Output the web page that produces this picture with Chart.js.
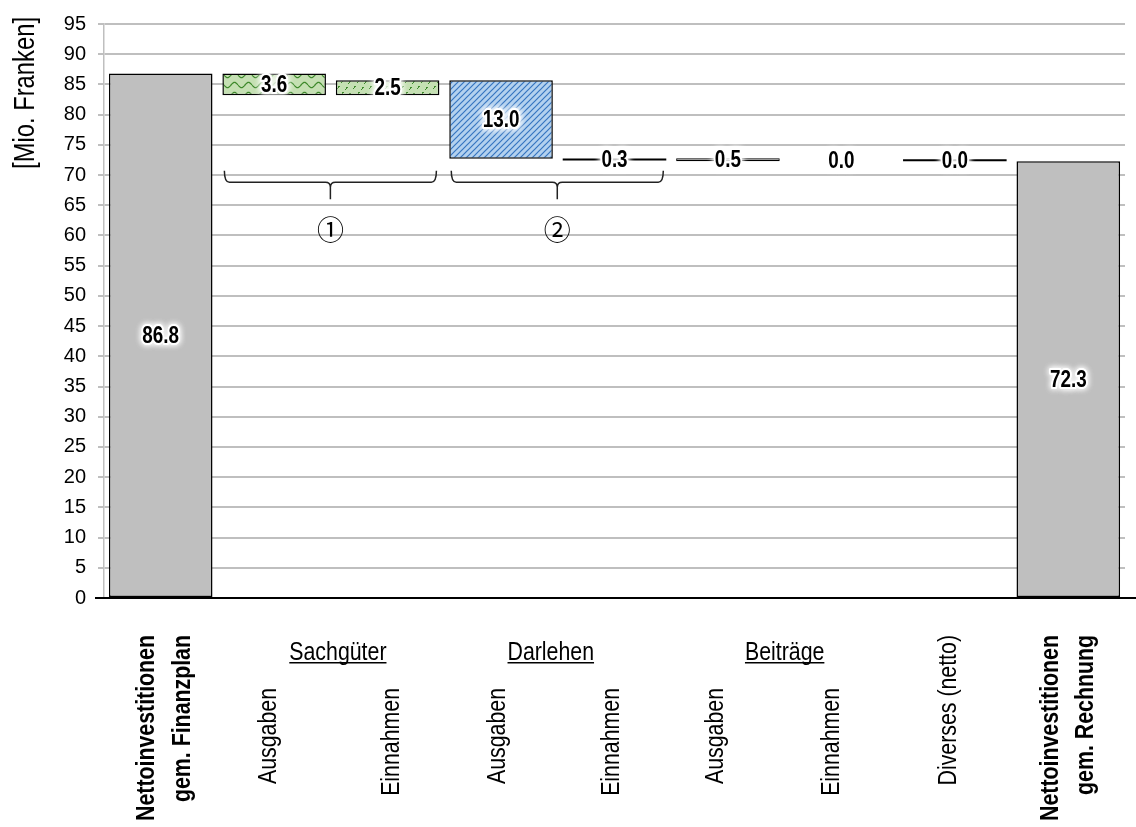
<!DOCTYPE html>
<html>
<head>
<meta charset="utf-8">
<title>Nettoinvestitionen</title>
<script src="https://cdn.jsdelivr.net/npm/chart.js@4.4.1/dist/chart.umd.min.js"></script>
<style>
  html, body { margin: 0; padding: 0; background: #ffffff; }
  #wrap { width: 1136px; height: 827px; }
</style>
</head>
<body>
<div id="wrap"><canvas id="chart" width="1136" height="827"></canvas></div>
<script>
// ---- data ----
const categories = [
  'Nettoinvestitionen gem. Finanzplan',
  'Sachgüter Ausgaben', 'Sachgüter Einnahmen',
  'Darlehen Ausgaben', 'Darlehen Einnahmen',
  'Beiträge Ausgaben', 'Beiträge Einnahmen',
  'Diverses (netto)',
  'Nettoinvestitionen gem. Rechnung'
];
// axis label lines per category (rotated)
const labelLines = [
  ['Nettoinvestitionen', 'gem. Finanzplan'],
  ['Ausgaben'], ['Einnahmen'],
  ['Ausgaben'], ['Einnahmen'],
  ['Ausgaben'], ['Einnahmen'],
  ['Diverses (netto)'],
  ['Nettoinvestitionen', 'gem. Rechnung']
];
const labelBold = [true, false, false, false, false, false, false, false, true];
// labels that start right below the axis (others sit under the group headings)
const labelHigh = [true, false, false, false, false, false, false, true, true];
// group headings spanning two categories
const groupNames = ['Sachgüter', 'Darlehen', 'Beiträge'];
const groupFirst = [1, 3, 5];
// braces under groups, with their markers
const braceGroups = [0, 1];
const braceMarks = ['①', '②'];
// waterfall: bottom and top of each bar, Mio. Franken
const barLow  = [0,    83.2, 83.2, 72.7, 72.4, 72.3, 72.3, 72.3,  0];
const barHigh = [86.8, 86.8, 85.7, 85.7, 72.7, 72.8, 72.3, 72.33, 72.3];
// y axis
const yMin = 0, yMax = 95, yStep = 5;

// ---- layout nudges for label columns (px) ----
const lineNudge = [[-14, 22], [-5], [4], [-3], [-3], [-12], [-10], [-6], [-17, 18]];
const groupNudge = [7, -7, 0];

// ---- fonts: condensed face if present, otherwise squeeze the regular one ----
const probe = document.createElement('canvas').getContext('2d');
probe.font = '40px "Liberation Sans Narrow", monospace';
const wNarrow = probe.measureText('Einnahmen 0123').width;
probe.font = '40px monospace';
const wMono = probe.measureText('Einnahmen 0123').width;
const HAS_NARROW = Math.abs(wNarrow - wMono) > 0.5;
const SANS = '"Liberation Sans", Arial, sans-serif';
const NARROW = HAS_NARROW ? '"Liberation Sans Narrow", "Arial Narrow", sans-serif' : SANS;
const SQUEEZE = HAS_NARROW ? 1 : 0.82;

function narrowText(ctx, txt, x, y, opt) {
  ctx.save();
  ctx.translate(x, y);
  if (opt.rotate) ctx.rotate(opt.rotate);
  ctx.scale(SQUEEZE, 1);
  ctx.font = (opt.bold ? 'bold ' : '') + opt.size + 'px ' + NARROW;
  ctx.textAlign = opt.align || 'center';
  ctx.textBaseline = opt.baseline || 'middle';
  if (opt.halo) {
    ctx.lineJoin = 'round';
    ctx.shadowColor = '#ffffff'; ctx.shadowBlur = 6;
    ctx.strokeStyle = '#ffffff'; ctx.lineWidth = 4;
    ctx.strokeText(txt, 0, 0);
    ctx.strokeText(txt, 0, 0);
    ctx.shadowBlur = 0;
  }
  ctx.fillStyle = '#000000';
  ctx.fillText(txt, 0, 0);
  const w = ctx.measureText(txt).width * SQUEEZE;
  ctx.restore();
  return w;
}

// ---- fill patterns ----
function tile(w, h, draw) {
  const c = document.createElement('canvas');
  c.width = w; c.height = h;
  const g = c.getContext('2d');
  draw(g);
  return g.createPattern(c, 'repeat');
}
const wave = tile(14, 10, g => {
  g.fillStyle = '#c5e0b3'; g.fillRect(0, 0, 14, 10);
  g.strokeStyle = '#3f8a2c'; g.lineWidth = 1.3;
  g.beginPath();
  for (let x = 0; x <= 14; x += 0.5) {
    const y = 5 + 2.6 * Math.sin(x / 14 * 2 * Math.PI);
    if (x === 0) g.moveTo(x, y); else g.lineTo(x, y);
  }
  g.stroke();
});
const confetti = tile(16, 12, g => {
  g.fillStyle = '#c5e0b3'; g.fillRect(0, 0, 16, 12);
  g.fillStyle = '#3f8a2c';
  [[2, 2], [10, 3], [6, 8], [13, 9]].forEach(([x, y]) => {
    g.fillRect(x, y, 1, 2); g.fillRect(x + 1, y, 1, 1);
    g.fillRect(x - 1, y + 2, 1, 1);
  });
});
const hatch = tile(6, 6, g => {
  g.fillStyle = '#b3d1ef'; g.fillRect(0, 0, 6, 6);
  g.strokeStyle = '#3675c0'; g.lineWidth = 1.2;
  g.beginPath();
  g.moveTo(-1, 7); g.lineTo(7, -1);
  g.moveTo(-4, 4); g.lineTo(4, -4);
  g.moveTo(2, 10); g.lineTo(10, 2);
  g.stroke();
});

const barFill   = ['#bfbfbf', wave, confetti, hatch, '#000000', '#8c8c8c', 'rgba(0,0,0,0)', '#000000', '#bfbfbf'];
const barBorder = [1.5, 1.5, 1.5, 1.5, 0, 1.2, 0, 0, 1.5];

// ---- annotations drawn on top ----
const annotations = {
  id: 'annotations',
  afterDatasetsDraw(chart) {
    const ctx = chart.ctx;
    const y = chart.scales.y;
    const area = chart.chartArea;
    const bars = chart.getDatasetMeta(0).data;

    // axis title
    narrowText(ctx, '[Mio. Franken]', 26, area.top - 7,
      { size: 29, rotate: -Math.PI / 2, align: 'right', baseline: 'middle' });

    // x axis base line
    const y0 = y.getPixelForValue(0);
    ctx.save();
    ctx.strokeStyle = '#000'; ctx.lineWidth = 2;
    ctx.beginPath(); ctx.moveTo(area.left - 9, y0); ctx.lineTo(chart.width, y0); ctx.stroke();
    ctx.restore();

    // braces and markers
    braceGroups.forEach((gi, k) => {
      const a = bars[groupFirst[gi]], b = bars[groupFirst[gi] + 1];
      const xl = a.x - a.width / 2 + 2, xr = b.x + b.width / 2 - 3, xc = (xl + xr) / 2;
      const yt = y.getPixelForValue(70.7), yl = y.getPixelForValue(68.8), yb = y.getPixelForValue(66.0);
      ctx.save();
      ctx.strokeStyle = '#222'; ctx.lineWidth = 1.5;
      ctx.beginPath();
      ctx.moveTo(xl, yt);
      ctx.quadraticCurveTo(xl, yl, xl + 5, yl);
      ctx.lineTo(xc - 5, yl);
      ctx.quadraticCurveTo(xc, yl, xc, yl + 5);
      ctx.lineTo(xc, yb);
      ctx.moveTo(xc, yl + 5);
      ctx.quadraticCurveTo(xc, yl, xc + 5, yl);
      ctx.lineTo(xr - 5, yl);
      ctx.quadraticCurveTo(xr, yl, xr, yt);
      ctx.stroke();
      ctx.fillStyle = '#000';
      ctx.font = '27px "Noto Sans CJK SC", "DejaVu Sans", sans-serif';
      ctx.textAlign = 'center'; ctx.textBaseline = 'middle';
      ctx.fillText(braceMarks[k], xc, y.getPixelForValue(60.9));
      ctx.restore();
    });

    // value labels with white halo
    bars.forEach((bar, i) => {
      const txt = (barHigh[i] - barLow[i]).toFixed(1);
      const cy = (y.getPixelForValue(barLow[i]) + y.getPixelForValue(barHigh[i])) / 2;
      narrowText(ctx, txt, bar.x, cy + 1, { size: 23, bold: true, halo: true });
    });

    // category labels, rotated, ending at a common top line
    const base = area.bottom;
    bars.forEach((bar, i) => {
      const topY = labelHigh[i] ? base + 37 : base + 90;
      labelLines[i].forEach((ln, j) => {
        narrowText(ctx, ln, bar.x + lineNudge[i][j], topY,
          { size: 26, bold: labelBold[i], rotate: -Math.PI / 2, align: 'right', baseline: 'middle' });
      });
    });

    // group headings, underlined
    groupNames.forEach((name, g) => {
      const a = bars[groupFirst[g]], b = bars[groupFirst[g] + 1];
      const cx = (a.x + b.x) / 2 + groupNudge[g];
      const by = base + 62;
      const w = narrowText(ctx, name, cx, by, { size: 26, baseline: 'alphabetic' });
      ctx.save();
      ctx.fillStyle = '#000';
      ctx.fillRect(cx - w / 2, by + 2, w, 1.5);
      ctx.restore();
    });
  }
};

new Chart(document.getElementById('chart'), {
  type: 'bar',
  data: {
    labels: categories,
    datasets: [{
      data: barLow.map((lo, i) => [lo, barHigh[i]]),
      backgroundColor: barFill,
      borderColor: '#000000',
      borderWidth: barBorder,
      borderSkipped: false,
      minBarLength: 2,
      barPercentage: 0.913,
      categoryPercentage: 1.0
    }]
  },
  options: {
    responsive: false,
    animation: false,
    devicePixelRatio: 1,
    layout: { padding: { top: 21, right: 11, bottom: 229, left: 0 } },
    plugins: { legend: { display: false }, tooltip: { enabled: false } },
    scales: {
      x: { display: false },
      y: {
        min: yMin, max: yMax,
        afterFit(scale) { scale.width = 104; },
        ticks: {
          stepSize: yStep, color: '#000', padding: 12,
          font: { family: HAS_NARROW ? NARROW : SANS, size: HAS_NARROW ? 23 : 20 }
        },
        grid: { color: '#bfbfbf', lineWidth: 2, tickLength: 6, drawTicks: true },
        border: { color: '#bfbfbf', width: 1.5 },
        title: { display: false }
      }
    }
  },
  plugins: [annotations]
});
</script>
</body>
</html>
